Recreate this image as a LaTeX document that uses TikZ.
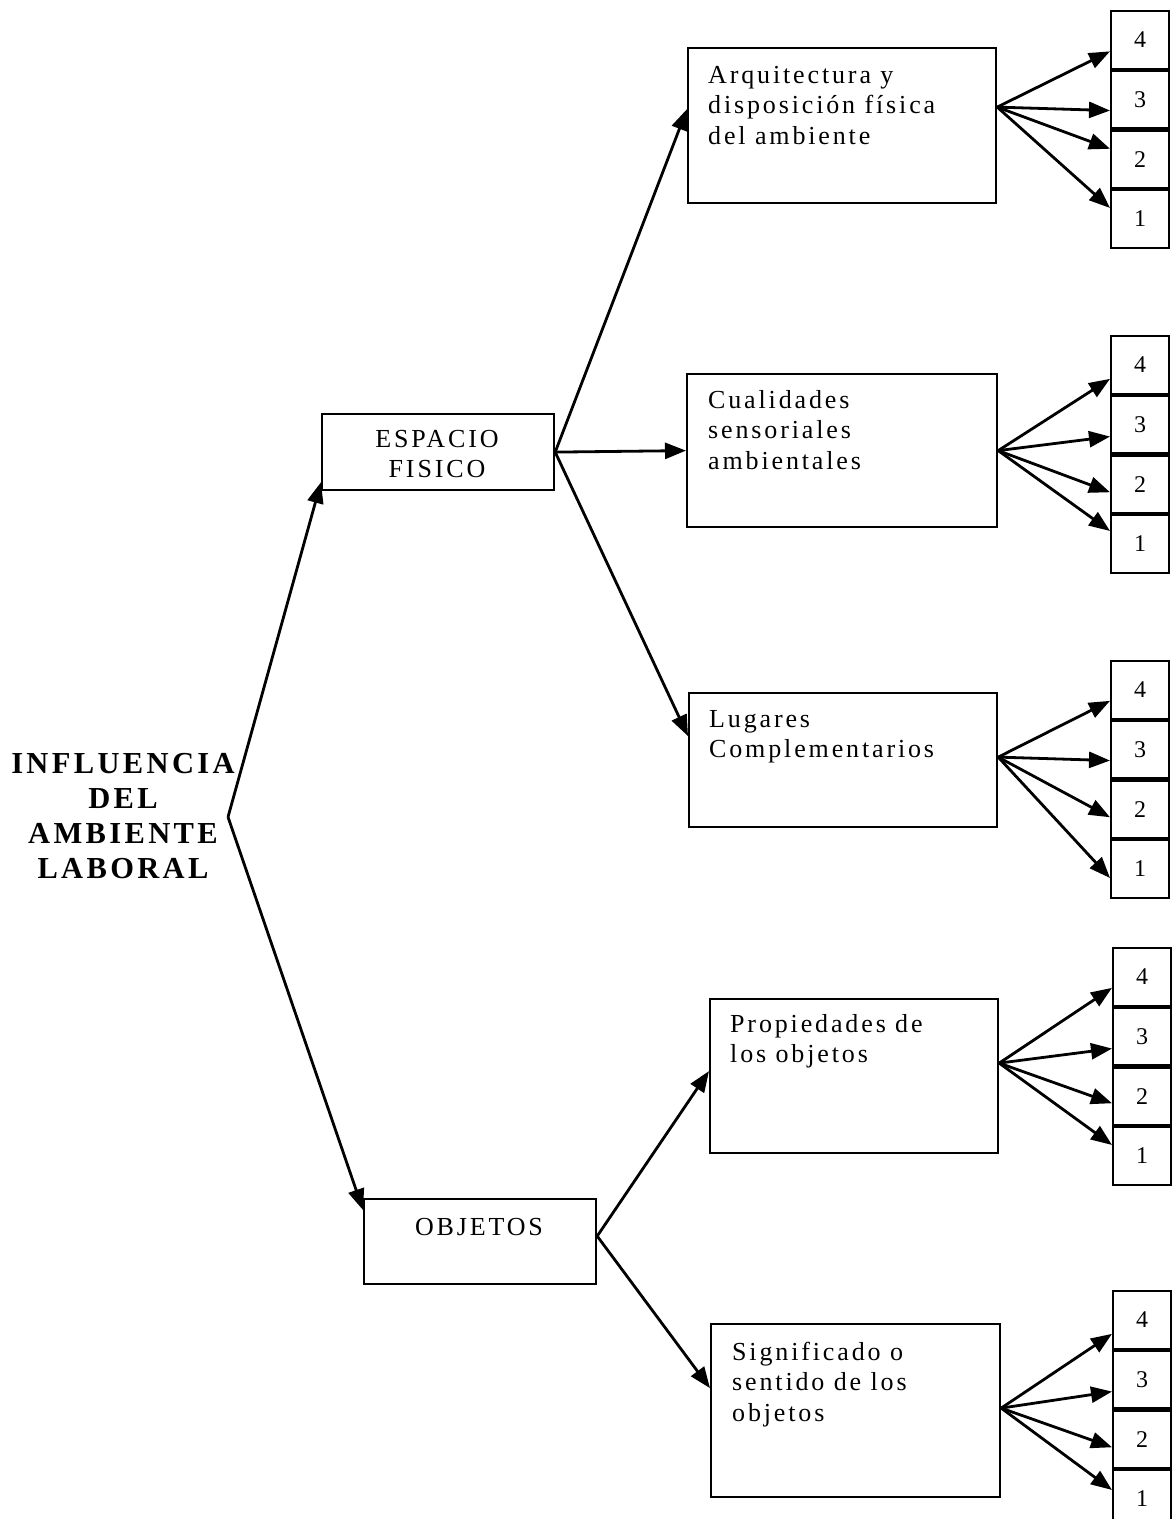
\documentclass[tikz,border=0pt]{standalone}
\usepackage{fontspec}
\setmainfont{Liberation Serif}
\newfontfamily\spacedfont[LetterSpace=11]{Liberation Serif}
\usetikzlibrary{arrows.meta}
\newcommand\numstack[3]{%
  \node[cell, anchor=north west] (#1c4) at (#2,#3) {4};
  \node[cell, anchor=north] (#1c3) at (#1c4.south) {3};
  \node[cell, anchor=north] (#1c2) at (#1c3.south) {2};
  \node[cell, anchor=north] (#1c1) at (#1c2.south) {1};
}
\tikzset{
  box/.style={draw, line width=2.2pt, inner sep=0pt, anchor=north west},
  cell/.style={draw, line width=2.2pt, minimum width=58pt, minimum height=57.5pt, inner sep=0pt, font=\fontsize{24}{26}\selectfont},
  txt/.style={anchor=north west, inner sep=0pt, align=left, font=\spacedfont\fontsize{26}{30.5}\selectfont},
  ctxt/.style={anchor=north, inner sep=0pt, align=center, font=\spacedfont\fontsize{26}{30}\selectfont},
  ttl/.style={anchor=north, inner sep=0pt, align=center, font=\spacedfont\bfseries\fontsize{30.5}{35}\selectfont},
  arr/.style={line width=2.8pt, -{Triangle[length=21pt,width=16pt]}},
}
\begin{document}
\begin{tikzpicture}[x=1pt, y=-1pt]
\useasboundingbox (0,0) rectangle (1173,1519);

% title
\node[ttl] (title) at (123,749) {\rule{0pt}{24pt}INFLUENCIA\\DEL\\AMBIENTE\\LABORAL};
\coordinate (ap) at (228,817);

% level 1 boxes
\node[box, minimum width=232pt, minimum height=76pt] (esp) at (321,413) {};
\node[ctxt] (esptxt) at (437,425) {\rule{0pt}{22pt}ESPACIO\\FISICO};
\node[box, minimum width=232pt, minimum height=85pt] (obj) at (363,1198) {};
\node[ctxt] (objtxt) at (479,1213) {\rule{0pt}{22pt}OBJETOS};

% level 2 boxes
\node[box, minimum width=308pt, minimum height=155pt] (b1) at (687,47) {};
\node[txt] (t1) at (708,61) {\rule{0pt}{22pt}Arquitectura y\\disposición física\\del ambiente};
\node[box, minimum width=310pt, minimum height=153pt] (b2) at (686,373) {};
\node[txt] (t2) at (708,386) {\rule{0pt}{22pt}Cualidades\\sensoriales\\ambientales};
\node[box, minimum width=308pt, minimum height=134pt] (b3) at (688,692) {};
\node[txt] (t3) at (709,705) {\rule{0pt}{22pt}Lugares\\Complementarios};
\node[box, minimum width=288pt, minimum height=154pt] (b4) at (709,998) {};
\node[txt] (t4) at (730,1010) {\rule{0pt}{22pt}Propiedades de\\los objetos};
\node[box, minimum width=289pt, minimum height=173pt] (b5) at (710,1323) {};
\node[txt] (t5) at (732,1338) {\rule{0pt}{22pt}Significado o\\sentido de los\\objetos};

% number stacks
\numstack{sa}{1110}{10}
\numstack{sb}{1110}{335}
\numstack{sc}{1110}{660}
\numstack{sd}{1112}{947}
\numstack{se}{1112}{1290}

% main connectors
\draw[arr] (ap) -- ([yshift=9pt]esp.south west);
\draw[arr] (ap) -- ([yshift=-12pt]obj.north west);
\draw[arr] (esp.east) -- ([yshift=16.5pt]b1.west);
\draw[arr] (esp.east) -- (b2.west);
\draw[arr] (esp.east) -- ([yshift=24pt]b3.west);
\draw[arr] ([yshift=5.5pt]obj.east) -- ([yshift=5pt]b4.west);
\draw[arr] ([yshift=5.5pt]obj.east) -- ([yshift=22.5pt]b5.west);

% fans
\coordinate (o1) at ([yshift=18.5pt]b1.east);
\draw[arr] (o1) -- ([yshift=-11.5pt]sac4.west);
\draw[arr] (o1) -- ([yshift=-11pt]sac3.west);
\draw[arr] (o1) -- ([yshift=10.5pt]sac2.west);
\draw[arr] (o1) -- ([yshift=11pt]sac1.west);

\coordinate (o2) at (b2.east);
\draw[arr] (o2) -- ([yshift=-14pt]sbc4.west);
\draw[arr] (o2) -- ([yshift=-12pt]sbc3.west);
\draw[arr] (o2) -- ([yshift=-8pt]sbc2.west);
\draw[arr] (o2) -- ([yshift=13pt]sbc1.west);

\coordinate (o3) at ([yshift=3pt]b3.east);
\draw[arr] (o3) -- ([yshift=-11pt]scc4.west);
\draw[arr] (o3) -- ([yshift=-11pt]scc3.west);
\draw[arr] (o3) -- ([yshift=-8pt]scc2.west);
\draw[arr] (o3) -- ([yshift=-9pt]scc1.west);

\coordinate (o4) at ([yshift=13pt]b4.east);
\draw[arr] (o4) -- ([yshift=-11pt]sdc4.west);
\draw[arr] (o4) -- ([yshift=-12pt]sdc3.west);
\draw[arr] (o4) -- ([yshift=-7pt]sdc2.west);
\draw[arr] (o4) -- ([yshift=11pt]sdc1.west);

\coordinate (o5) at ([yshift=2.5pt]b5.east);
\draw[arr] (o5) -- ([yshift=-14pt]sec4.west);
\draw[arr] (o5) -- ([yshift=-12pt]sec3.west);
\draw[arr] (o5) -- ([yshift=-8pt]sec2.west);
\draw[arr] (o5) -- ([yshift=9pt]sec1.west);
\end{tikzpicture}
\end{document}
